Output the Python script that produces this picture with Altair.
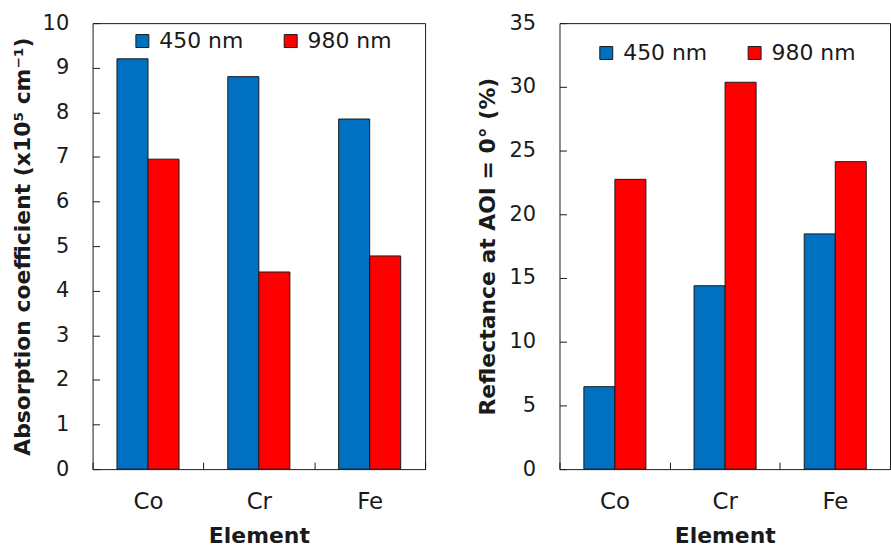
import altair as alt
import pandas as pd

# Elements and the two probe wavelengths
elements = ["Co", "Cr", "Fe"]
wavelengths = ["450 nm", "980 nm"]
colors = ["#0070C0", "#FF0000"]

# Absorption coefficient (x10^5 cm^-1)
absorption_450 = [9.20, 8.80, 7.85]
absorption_980 = [6.95, 4.42, 4.78]

# Reflectance at normal incidence (%)
reflectance_450 = [6.47, 14.39, 18.46]
reflectance_980 = [22.74, 30.36, 24.13]

FONT = "DejaVu Sans"
TEXT = "#1a1a1a"
PLOT_HEIGHT = 448


def long_table(v450, v980):
    rows = []
    for el, a, b in zip(elements, v450, v980):
        rows.append({"element": el, "wavelength": wavelengths[0], "value": a})
        rows.append({"element": el, "wavelength": wavelengths[1], "value": b})
    return pd.DataFrame(rows)


def panel(df, ytitle, ymax, ystep, title_pad, legend_x, legend_y, width):
    return (
        alt.Chart(df)
        .mark_bar(stroke=TEXT, strokeWidth=1)
        .encode(
            x=alt.X(
                "element:N",
                sort=elements,
                scale=alt.Scale(paddingInner=0, paddingOuter=0),
                axis=alt.Axis(
                    title="Element",
                    labelAngle=0,
                    labelFontSize=23,
                    tickBand="extent",
                    # ticks drawn inside the frame
                    offset=-7,
                    tickSize=7,
                    domain=False,
                    labelPadding=22,
                    titlePadding=12,
                ),
            ),
            xOffset=alt.XOffset(
                "wavelength:N",
                sort=wavelengths,
                scale=alt.Scale(paddingInner=0, paddingOuter=0.786),
            ),
            y=alt.Y(
                "value:Q",
                scale=alt.Scale(domain=[0, ymax], nice=False),
                axis=alt.Axis(
                    title=ytitle,
                    values=list(range(0, ymax + 1, ystep)),
                    labelFontSize=21,
                    offset=-7,
                    tickSize=7,
                    labelPadding=24,
                    domain=False,
                    grid=False,
                    titlePadding=title_pad,
                ),
            ),
            color=alt.Color(
                "wavelength:N",
                sort=wavelengths,
                scale=alt.Scale(domain=wavelengths, range=colors),
                legend=alt.Legend(
                    title=None,
                    orient="none",
                    legendX=legend_x,
                    legendY=legend_y,
                    direction="horizontal",
                    columns=2,
                    columnPadding=36,
                    symbolType="square",
                    symbolSize=169,
                    symbolStrokeColor=TEXT,
                    symbolStrokeWidth=1,
                    labelFontSize=22,
                    labelFont=FONT,
                    labelColor=TEXT,
                    labelOffset=6,
                    padding=0,
                ),
            ),
        )
        .properties(width=width, height=PLOT_HEIGHT)
    )


left = panel(
    long_table(absorption_450, absorption_980),
    "Absorption coefficient (x10\u2075 cm\u207b\u00b9)",
    10, 1, 8, 39, 7, 334,
)
right = panel(
    long_table(reflectance_450, reflectance_980),
    "Reflectance at AOI = 0\u00b0 (%)",
    35, 5, 10, 36, 19, 332,
)

chart = (
    alt.hconcat(left, right, spacing=49)
    .resolve_scale(color="independent")
    .resolve_legend(color="independent")
    .properties(padding={"left": 10, "top": 10, "right": 0, "bottom": 0})
    .configure_view(stroke=TEXT, strokeWidth=1)
    .configure_axis(
        labelFont=FONT,
        labelColor=TEXT,
        titleFont=FONT,
        titleFontSize=22,
        titleFontWeight="bold",
        titleColor=TEXT,
        tickColor=TEXT,
        tickWidth=1,
    )
)

chart.save("out.html", embed_options={"renderer": "svg", "actions": False})
